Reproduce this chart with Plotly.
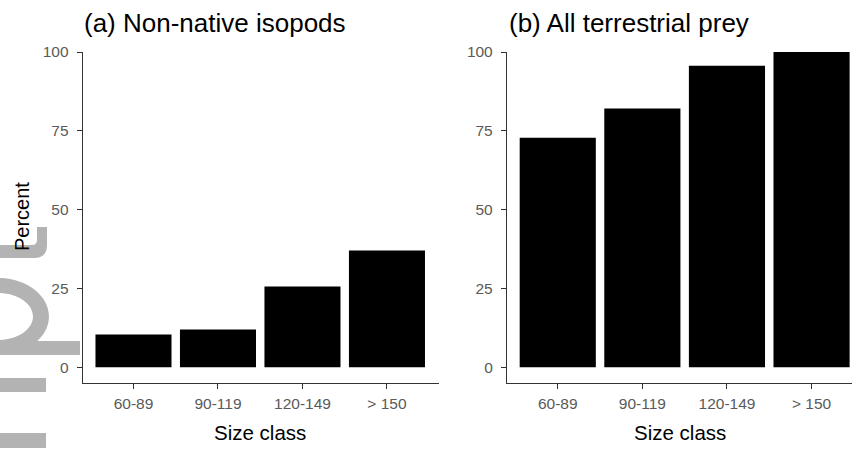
import plotly.graph_objects as go
from plotly.subplots import make_subplots

W, H = 852, 449

categories = ["60-89", "90-119", "120-149", "> 150"]
isopods = [10.4, 12.0, 25.6, 37.0]
terrestrial = [72.8, 82.1, 95.6, 100.0]
panel_titles = ["(a) Non-native isopods", "(b) All terrestrial prey"]
y_ticks = [0, 25, 50, 75, 100]


def px(x):
    return x / W


def py(y):
    return 1 - y / H


fig = make_subplots(rows=1, cols=2, horizontal_spacing=0.05)

for i, vals in enumerate([isopods, terrestrial], start=1):
    fig.add_trace(go.Bar(x=categories, y=vals, width=0.9,
                         marker=dict(color="black", line=dict(width=0)),
                         showlegend=False, hoverinfo="x+y"), row=1, col=i)

font_main = "Liberation Sans, Arial, sans-serif"
axis_common = dict(showline=True, linecolor="#333333", linewidth=1.3,
                   ticks="outside", tickcolor="#333333", ticklen=5, tickwidth=1.1,
                   showgrid=False, zeroline=False, automargin=False,
                   tickfont=dict(family=font_main, size=15.5, color="#5a5a5a"))

# panel domains (pixel positions converted to paper units)
left_dom = [px(82.8), px(438.5)]
right_dom = [px(507.0), 1.0]
y_dom = [py(383), py(52)]

fig.update_xaxes(type="category", domain=left_dom, range=[-0.6, 3.61],
                 anchor="y", ticklabelstandoff=1, **axis_common, row=1, col=1)
fig.update_xaxes(type="category", domain=right_dom, range=[-0.6, 3.478],
                 anchor="y2", ticklabelstandoff=1, **axis_common, row=1, col=2)
for c in (1, 2):
    fig.update_yaxes(domain=y_dom, range=[-5, 100], tickvals=y_ticks,
                     ticklabelstandoff=5, **axis_common, row=1, col=c)

ann = []
ann.append(dict(text=panel_titles[0], x=px(82), y=py(23), xref="paper", yref="paper",
                xanchor="left", yanchor="middle", showarrow=False,
                font=dict(family=font_main, size=26, color="black")))
ann.append(dict(text=panel_titles[1], x=px(507), y=py(23), xref="paper", yref="paper",
                xanchor="left", yanchor="middle", showarrow=False,
                font=dict(family=font_main, size=26, color="black")))
for xc in (260.2, 679.5):
    ann.append(dict(text="Size class", x=px(xc), y=py(432), xref="paper", yref="paper",
                    xanchor="center", yanchor="middle", showarrow=False,
                    font=dict(family=font_main, size=20.5, color="black")))
ann.append(dict(text="Percent", x=px(22), y=py(217), xref="paper", yref="paper",
                xanchor="center", yanchor="middle", showarrow=False, textangle=-90,
                font=dict(family=font_main, size=20, color="black")))


# watermark fragment on left edge (gray, partly off-page)
GRAY = "#b3b3b3"


def P(x, y):
    return f"{px(x):.5f},{py(y):.5f}"


def ellipse(cx, cy, rx, ry):
    k = 0.5523
    return (f"M {P(cx + rx, cy)} "
            f"C {P(cx + rx, cy + k * ry)} {P(cx + k * rx, cy + ry)} {P(cx, cy + ry)} "
            f"C {P(cx - k * rx, cy + ry)} {P(cx - rx, cy + k * ry)} {P(cx - rx, cy)} "
            f"C {P(cx - rx, cy - k * ry)} {P(cx - k * rx, cy - ry)} {P(cx, cy - ry)} "
            f"C {P(cx + k * rx, cy - ry)} {P(cx + rx, cy - k * ry)} {P(cx + rx, cy)} Z")


shapes = []
# "p" bowl ring
shapes.append(dict(type="path", xref="paper", yref="paper", layer="below",
                   path=ellipse(-2, 316.5, 51, 38.5) + " " + ellipse(-2, 316.5, 35, 23.5),
                   fillrule="evenodd", fillcolor=GRAY, line=dict(width=0)))
# stems
for (x0, y0, x1, y1) in [(-5, 341, 80, 355), (-5, 378, 46, 392), (-5, 433, 46, 448)]:
    shapes.append(dict(type="rect", xref="paper", yref="paper", layer="below",
                       x0=px(x0), x1=px(x1), y0=py(y1), y1=py(y0),
                       fillcolor=GRAY, line=dict(width=0)))
# "t" hook
shapes.append(dict(type="path", xref="paper", yref="paper", layer="below",
                   path=(f"M {P(-5, 245)} L {P(-5, 258)} L {P(34, 258)} "
                         f"Q {P(47, 258)} {P(47, 245)} L {P(47, 227)} L {P(37, 227)} "
                         f"L {P(37, 240)} Q {P(37, 245)} {P(32, 245)} Z"),
                   fillcolor=GRAY, line=dict(width=0)))

fig.update_layout(width=W, height=H, margin=dict(l=0, r=0, t=0, b=0),
                  paper_bgcolor="white", plot_bgcolor="rgba(0,0,0,0)",
                  bargap=0.1, annotations=ann, shapes=shapes,
                  font=dict(family=font_main))

fig.write_html("out.html")
